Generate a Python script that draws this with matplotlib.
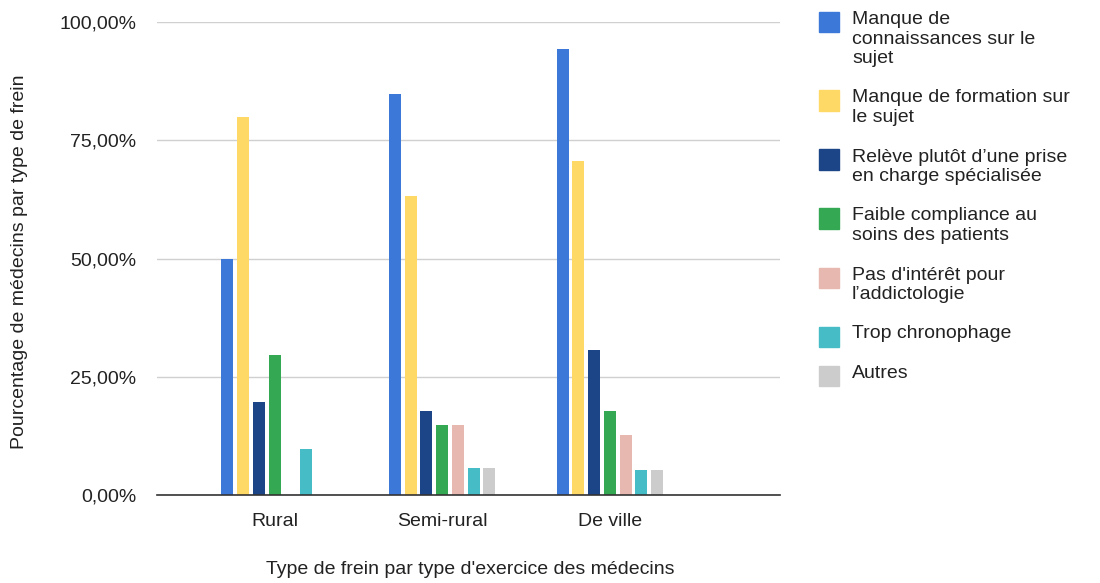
import numpy as np
import matplotlib
matplotlib.use('Agg')
from matplotlib import pyplot as plt
from matplotlib.ticker import FuncFormatter

plt.rcParams['font.family'] = ['Liberation Sans', 'DejaVu Sans']

# Data
groups = ['Rural', 'Semi-rural', 'De ville']
series = [
    'Manque de\nconnaissances sur le\nsujet',
    'Manque de formation sur\nle sujet',
    'Relève plutôt d\u2019une prise\nen charge spécialisée',
    'Faible compliance au\nsoins des patients',
    "Pas d'intérêt pour\nl\u2019addictologie",
    'Trop chronophage',
    'Autres',
]
manque_connaissances = [50.0, 84.7, 94.3]
manque_formation = [80.0, 63.3, 70.6]
prise_en_charge = [19.6, 17.8, 30.7]
faible_compliance = [29.6, 14.8, 17.8]
pas_interet = [0.0, 14.8, 12.7]
chronophage = [9.7, 5.6, 5.3]
autres = [0.0, 5.6, 5.3]
values = [manque_connaissances, manque_formation, prise_en_charge,
          faible_compliance, pas_interet, chronophage, autres]
colors = ['#3c78d8', '#ffd966', '#1c4587', '#34a853', '#e6b8af', '#46bdc6', '#cccccc']

fig = plt.figure(figsize=(11, 5.83), dpi=100)
ax = fig.add_axes([0.143, 0.151, 0.566, 0.811])

x = np.arange(len(groups))
pitch = 0.094
width = 0.072
for i, (vals, col) in enumerate(zip(values, colors)):
    ax.bar(x + (i - 3) * pitch, vals, width, color=col, zorder=3)

ax.set_xlim(-0.70, 3.015)
ax.set_ylim(0, 100)
ax.set_yticks([0, 25, 50, 75, 100])
ax.yaxis.set_major_formatter(FuncFormatter(lambda v, p: f'{v:.2f}%'.replace('.', ',')))
ax.set_xticks(x)
ax.set_xticklabels(groups)
ax.tick_params(length=0, labelsize=14, colors='#222222')
ax.tick_params(axis='x', pad=13)
ax.tick_params(axis='y', pad=15)
ax.grid(axis='y', color='#d0d0d0', linewidth=1.0, zorder=0)
for s in ['top', 'right', 'left']:
    ax.spines[s].set_visible(False)
ax.spines['bottom'].set_color('#333333')
ax.spines['bottom'].set_linewidth(1.2)
ax.spines['bottom'].set_zorder(4)

fig.text(470 / 1100, 1 - 570 / 583, "Type de frein par type d'exercice des médecins",
         ha='center', va='center', fontsize=14, color='#222222')
fig.text(20 / 1100, 1 - 262 / 583, 'Pourcentage de médecins par type de frein',
         ha='center', va='center', rotation=90, fontsize=14, color='#222222')

# Legend drawn by hand so the squares sit on the first line of each label
W, H = 1100, 583
ytop = 12
line_h = 19.5
gap = 20
for label, col in zip(series, colors):
    n = label.count('\n') + 1
    fig.patches.append(plt.Rectangle((819 / W, 1 - (ytop + 20) / H), 20 / W, 20 / H,
                                     transform=fig.transFigure, color=col, figure=fig))
    fig.text(852 / W, 1 - (ytop - 1) / H, label, ha='left', va='top', fontsize=14,
             color='#222222', linespacing=1.2)
    ytop += n * line_h + gap

fig.savefig('out.png', dpi=100)
